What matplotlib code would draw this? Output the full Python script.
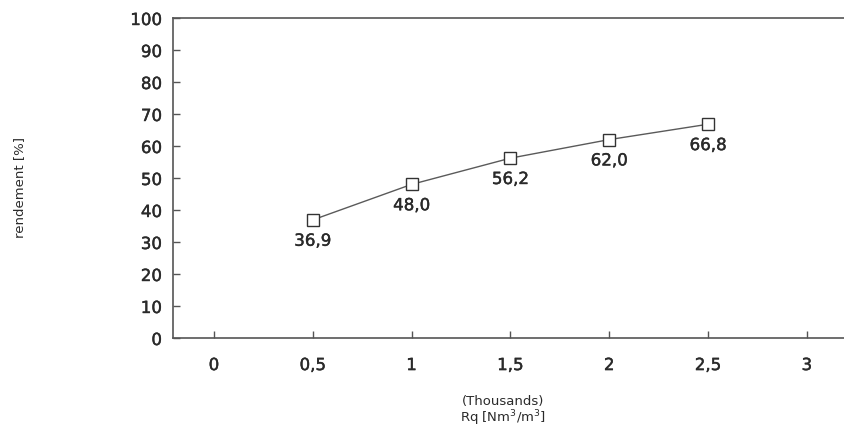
import matplotlib
matplotlib.use("Agg")
import matplotlib.pyplot as plt
import matplotlib.patheffects as pe

# Specific air flow (thousands of Nm3 per m3) vs. efficiency
rq_thousands = [0.5, 1.0, 1.5, 2.0, 2.5]
rendement = [36.9, 48.0, 56.2, 62.0, 66.8]
value_labels = ["36,9", "48,0", "56,2", "62,0", "66,8"]

x_ticks = [0, 0.5, 1, 1.5, 2, 2.5, 3]
x_tick_labels = ["0", "0,5", "1", "1,5", "2", "2,5", "3"]
y_ticks = list(range(0, 101, 10))

ink = "#2a2a2a"
thick = [pe.withStroke(linewidth=0.3, foreground=ink)]
plt.rcParams["font.family"] = ["DejaVu Sans"]

fig = plt.figure(figsize=(8.44, 4.31), dpi=100)
ax = fig.add_axes([173 / 844, 92 / 431, 1 - 173 / 844, 320 / 431])

ax.plot(rq_thousands, rendement, color="#5a5a5a", lw=1.0,
        marker="s", markersize=8.5, markerfacecolor="white",
        markeredgecolor="#333333", markeredgewidth=1.0)

for x, y, lab in zip(rq_thousands, rendement, value_labels):
    ax.annotate(lab, (x, y), xytext=(0, -15), textcoords="offset points",
                ha="center", va="center", fontsize=12, color=ink,
                path_effects=thick)

ax.set_xlim(-0.207, 3.188)
ax.set_ylim(0, 100)
ax.set_xticks(x_ticks)
ax.set_xticklabels(x_tick_labels)
ax.set_yticks(y_ticks)

ax.tick_params(axis="both", direction="in", length=5, width=1.0,
               colors="#555555", labelcolor=ink, labelsize=12)
ax.tick_params(axis="x", pad=13)
ax.tick_params(axis="y", pad=8)
for lab in ax.get_xticklabels() + ax.get_yticklabels():
    lab.set_path_effects(thick)

for side in ("left", "bottom", "top"):
    ax.spines[side].set_color("#555555")
    ax.spines[side].set_linewidth(1.2)
ax.spines["right"].set_visible(False)

fig.text(20 / 844, 1 - 188 / 431, "rendement [%]", rotation=90,
         ha="center", va="center", fontsize=9.5, color=ink)
fig.text(503 / 844, 1 - 402 / 431, "(Thousands)", ha="center", va="center",
         fontsize=9.5, color=ink)
fig.text(503 / 844, 1 - 418 / 431, "Rq [Nm$^3$/m$^3$]", ha="center", va="center",
         fontsize=9.5, color=ink)

fig.savefig("out.png", dpi=100, facecolor="white")
